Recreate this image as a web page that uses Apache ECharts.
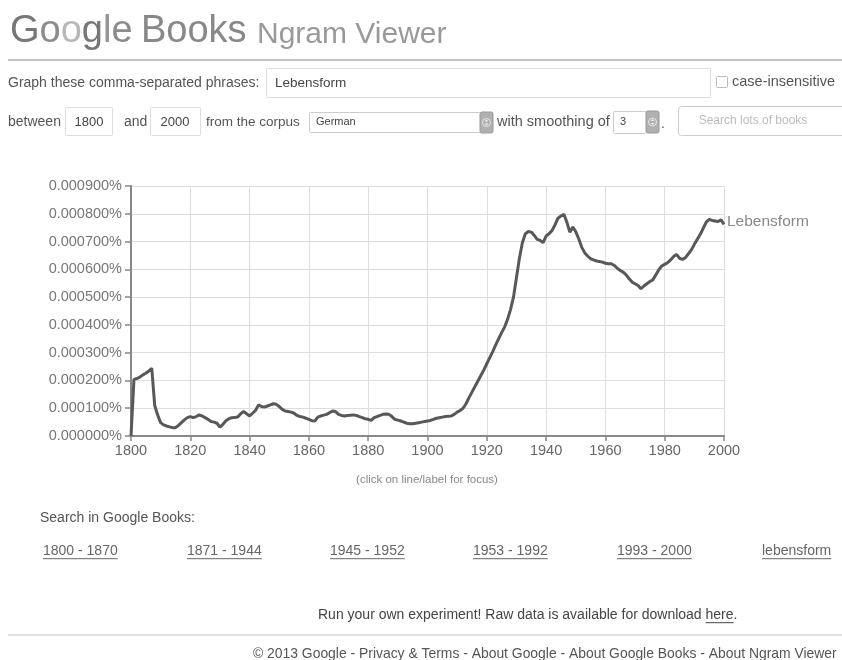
<!DOCTYPE html>
<html>
<head>
<meta charset="utf-8">
<script src="https://cdn.jsdelivr.net/npm/echarts@6/dist/echarts.min.js"></script>
<style>
html,body{margin:0;padding:0;background:#fff;}
#c{width:842px;height:660px;}
</style>
</head>
<body>
<div id="c"></div>
<script>
// ---- data ----
const phrase = 'Lebensform';
const startYear = 1800;
const endYear = 2000;
// yearly frequency, in millionths of a percent (1800 ... 2000)
const valuesMicroPct = [
  0,204,207,212,220,226,234,244,110,75,        // 1800-1809
  48,40,36,33,30,30,38,48,58,66,               // 1810-1819
  70,66,70,76,72,66,60,52,50,46,               // 1820-1829
  32,42,55,62,66,67,68,80,88,80,               // 1830-1839
  72,82,92,112,106,104,108,112,116,114,        // 1840-1849
  106,96,90,88,86,82,74,70,68,64,              // 1850-1859
  60,55,54,68,72,75,78,84,90,88,               // 1860-1869
  78,74,72,74,75,76,74,70,66,62,               // 1870-1879
  60,56,66,70,74,78,79,78,70,60,               // 1880-1889
  57,54,50,46,44,44,46,48,50,52,               // 1890-1899
  54,56,60,64,66,68,70,71,72,78,               // 1900-1909
  86,92,100,116,138,158,178,198,218,238,       // 1910-1919
  260,282,304,328,350,372,392,420,455,500,     // 1920-1929
  570,640,696,728,736,734,722,708,704,696,     // 1930-1939
  720,728,740,760,784,792,798,770,734,752,     // 1940-1949
  736,710,680,660,648,638,634,630,628,626,     // 1950-1959
  622,620,620,614,604,596,590,580,566,554,     // 1960-1969
  548,542,530,540,548,556,562,580,598,612,     // 1970-1979
  618,624,634,646,654,640,636,642,656,670,     // 1980-1989
  690,708,726,748,770,780,776,774,772,778,     // 1990-1999
  762                                          // 2000
];
const xTicks = [1800,1820,1840,1860,1880,1900,1920,1940,1960,1980,2000];
const yMax = 0.0009;
const yStep = 0.0001;
const searchRanges = ['1800 - 1870','1871 - 1944','1945 - 1952','1953 - 1992','1993 - 2000','lebensform'];

// ---- helpers ----
const FONT = '"Liberation Sans", Arial, sans-serif';
const mctx = document.createElement('canvas').getContext('2d');
function tw(s, size){ mctx.font = size + 'px ' + FONT; return mctx.measureText(s).width; }
const G = [];
function txt(s, x, y, size, color, align){
  G.push({type:'text', silent:true, style:{text:s, x:x, y:y, fill:color, font: size+'px '+FONT, align:align||'left', verticalAlign:'middle'}});
}
function line(x1,y1,x2,y2,color,w){
  G.push({type:'line', silent:true, shape:{x1:x1,y1:y1,x2:x2,y2:y2}, style:{stroke:color, lineWidth:w||1}});
}
function box(x,y,w,h,stroke,fill,r){
  G.push({type:'rect', silent:true, shape:{x:x,y:y,width:w,height:h,r:r||0}, style:{stroke:stroke, fill:fill||'#fff', lineWidth:1}});
}
function run(parts, x, y, size, color){
  let cx = x;
  parts.forEach(p => {
    const w = tw(p.t, size);
    txt(p.t, cx, y, size, p.c || color);
    if (p.u) line(cx, y + size*0.55, cx + w, y + size*0.55, p.c || color, 1);
    cx += w;
  });
}
function arrowBtn(x,y,w,h){
  box(x,y,w,h,'#999','#b0b0b0',2);
  G.push({type:'circle', silent:true, shape:{cx:x+w/2, cy:y+h/2, r:4}, style:{stroke:'#e6e6e6', fill:'none', lineWidth:1}});
  G.push({type:'polygon', silent:true, shape:{points:[[x+w/2-2,y+h/2-1],[x+w/2+2,y+h/2-1],[x+w/2,y+h/2-3]]}, style:{fill:'#eee'}});
  G.push({type:'polygon', silent:true, shape:{points:[[x+w/2-2,y+h/2+1],[x+w/2+2,y+h/2+1],[x+w/2,y+h/2+3]]}, style:{fill:'#eee'}});
}

// ---- header ----
G.push({type:'text', silent:true, style:{
  x:10, y:32, verticalAlign:'middle', align:'left',
  text:'{g1|G}{g2|o}{g3|o}{g4|g}{g5|l}{g6|e}',
  rich:{
    g1:{fill:'#777', font:'38px '+FONT}, g2:{fill:'#8c8c8c', font:'38px '+FONT},
    g3:{fill:'#b8b8b8', font:'38px '+FONT}, g4:{fill:'#777', font:'38px '+FONT},
    g5:{fill:'#939393', font:'38px '+FONT}, g6:{fill:'#8c8c8c', font:'38px '+FONT}
  }
}});
txt('Books', 141, 32, 38, '#888');
txt('Ngram Viewer', 257, 35, 30, '#999');
line(8, 60, 842, 60, '#b0b0b0', 1.5);

// row 1
txt('Graph these comma-separated phrases:', 8, 83, 14, '#555');
box(266.5, 68.5, 444, 29, '#ddd', '#fff', 1);
txt(phrase, 275, 83, 13.5, '#444');
box(716.5, 76.5, 11, 11, '#bbb', '#fff', 1);
txt('case-insensitive', 732, 82, 14.5, '#555');

// row 2
txt('between', 8, 122, 14, '#555');
box(65.5, 107.5, 47, 28, '#ddd', '#fff', 1);
txt('1800', 89, 122, 13, '#444', 'center');
txt('and', 124, 122, 14, '#555');
box(150.5, 107.5, 50, 28, '#ddd', '#fff', 1);
txt('2000', 175, 122, 13, '#444', 'center');
txt('from the corpus', 206, 122, 13.5, '#555');
box(309.5, 112.5, 171, 20, '#ccc', '#fff', 1);
txt('German', 316, 122, 11, '#444');
arrowBtn(480, 112, 13, 21);
txt('with smoothing of', 497, 122, 14.5, '#555');
box(613.5, 111.5, 33, 22, '#ccc', '#fff', 1);
txt('3', 620, 122, 11, '#444');
arrowBtn(646, 111, 13, 22);
txt('.', 661, 124, 14, '#555');
box(678.5, 106.5, 170, 29, '#ccc', '#fff', 3);
txt('Search lots of books', 753, 121, 12, '#bbb', 'center');

// ---- below chart ----
txt('(click on line/label for focus)', 427, 480, 11.5, '#888', 'center');
txt('Search in Google Books:', 40, 518, 14, '#555');
const linkX = [43, 187, 330, 473, 617, 762];
searchRanges.forEach((s, i) => run([{t:s, u:true}], linkX[i], 551, 14, '#666'));
run([{t:'Run your own experiment! Raw data is available for download '},{t:'here', u:true},{t:'.'}], 318, 615, 14, '#444');
line(8, 635, 842, 635, '#d8d8d8', 1.5);
run([{t:'\u00a9 2013 Google - '},{t:'Privacy & Terms', u:true},{t:' - '},{t:'About Google', u:true},{t:' - '},{t:'About Google Books', u:true},{t:' - '},{t:'About Ngram Viewer', u:true}], 253, 654, 13.9, '#555');

// ---- chart ----
const seriesData = valuesMicroPct.map((v, i) => [startYear + i, v * 1e-6]);

const chart = echarts.init(document.getElementById('c'), null, {renderer:'canvas'});
chart.setOption({
  animation: false,
  backgroundColor: '#fff',
  grid: {left: 131, top: 186, width: 593, height: 250, containLabel: false},
  xAxis: {
    type: 'value', min: startYear, max: endYear, interval: 20,
    axisLine: {show: true, lineStyle: {color: '#888', width: 2}},
    axisTick: {show: true, length: 5, lineStyle: {color: '#888', width: 1.5}},
    axisLabel: {color: '#666', fontSize: 14.5, fontFamily: FONT, margin: 7,
      formatter: v => xTicks.includes(v) ? String(v) : ''},
    splitLine: {show: true, lineStyle: {color: '#dedede', width: 1}}
  },
  yAxis: {
    type: 'value', min: 0, max: yMax, interval: yStep,
    axisLine: {show: true, lineStyle: {color: '#888', width: 2}},
    axisTick: {show: true, length: 6, lineStyle: {color: '#888', width: 1.5}},
    axisLabel: {color: '#777', fontSize: 14.5, fontFamily: FONT, margin: 9,
      formatter: v => v.toFixed(6) + '%'},
    splitLine: {show: true, lineStyle: {color: '#dedede', width: 1}}
  },
  series: [{
    name: phrase, type: 'line', data: seriesData,
    showSymbol: false, symbol: 'none',
    lineStyle: {color: '#585858', width: 3},
    endLabel: {show: true, formatter: phrase, color: '#888', fontSize: 15.5, fontFamily: FONT, distance: 3, offset: [0, -3]},
    z: 3
  }],
  graphic: {elements: G}
});
</script>
</body>
</html>
